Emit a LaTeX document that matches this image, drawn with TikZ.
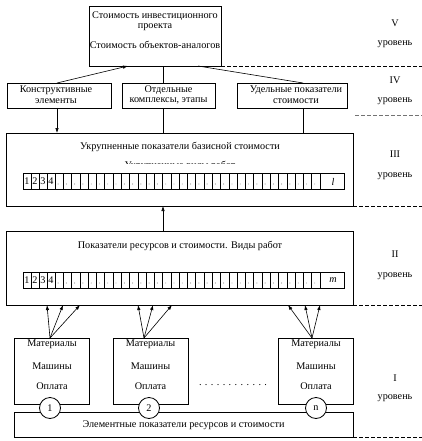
\documentclass[tikz,border=0pt]{standalone}
\usepackage{fontspec}
\setmainfont{Liberation Serif}
\usetikzlibrary{arrows.meta,calc}
\begin{document}
\begin{tikzpicture}[x=1pt,y=-1pt,
  box/.style={draw,line width=0.8pt,inner sep=0pt,outer sep=0pt},
  txt/.style={font=\fontsize{10.2}{12}\selectfont,inner sep=0pt},
  arr/.style={-{Latex[length=5pt,width=3.5pt]},line width=0.6pt},
  ln/.style={line width=0.6pt},
  lvdash/.style={dash pattern=on 4pt off 2pt,line width=0.7pt},
  celline/.style={line width=0.6pt},
  num/.style={circle,draw,fill=white,line width=0.8pt,minimum size=21pt,inner sep=0pt,font=\fontsize{10.2}{12}\selectfont},
]
\useasboundingbox (0,0) rectangle (422,441);

% ---------- level V ----------
\node[box,minimum width=132pt,minimum height=60pt] (top) at (155,36) {};
\node[txt] (t1) at (155,16) {Стоимость инвестиционного};
\node[txt] (t2) at (155,27) {проекта};
\node[txt] (t3) at (155,45) {Стоимость объектов-аналогов};

% ---------- level IV ----------
\node[box,minimum width=104pt,minimum height=25pt] (k1) at (59,95.5) {};
\node[box,minimum width=93pt,minimum height=25pt] (k2) at (168.5,95.5) {};
\node[box,minimum width=110pt,minimum height=25pt] (k3) at (292,95.5) {};
\node[txt] (k1a) at (56,90) {Конструктивные};
\node[txt] (k1b) at (56,101) {элементы};
\node[txt] (k2a) at (168.5,90) {Отдельные};
\node[txt] (k2b) at (168.5,101) {комплексы, этапы};
\node[txt] (k3a) at (296,90) {Удельные показатели};
\node[txt] (k3b) at (296,101) {стоимости};

% ---------- level III ----------
\node[box,minimum width=347pt,minimum height=73pt] (l3) at (179.5,169.5) {};
\node[txt] (l3t) at (180,147) {Укрупненные показатели базисной стоимости};
\begin{scope}
  \clip (0,0) rectangle (422,163.8);
  \node[txt,anchor=base] (l3h) at (180,168.6) {Укрупненные виды работ};
\end{scope}

% ---------- level II ----------
\node[box,minimum width=347pt,minimum height=74pt] (l2) at (179.5,268) {};
\node[txt] (l2t) at (180,246) {Показатели ресурсов и стоимости. Виды работ};

% ---------- strips ----------
\foreach \yy/\last/\nm in {173/l/s3, 272/m/s2}{
  \node[draw,line width=0.6pt,minimum width=321pt,minimum height=16.5pt,inner sep=0pt] (\nm) at (183.5,\yy+8.25) {};
  \foreach \i in {1,2,3,4}{
    \draw[celline] (23+\i*8,\yy) -- (23+\i*8,\yy+16.5);
    \node[txt] at (19+\i*8,\yy+8.5) {\i};
  }
  \foreach \k in {1,...,32}{
    \draw[celline] (55+\k*8.28,\yy) -- (55+\k*8.28,\yy+16.5);
    \fill[black!70] (55+\k*8.28-5.2,\yy+11) circle (0.45pt);
  }
  \node[txt] at (333,\yy+8.5) {\textit{\last}};
}

% ---------- level I ----------
\node[box,minimum width=75pt,minimum height=66pt] (m1) at (51.5,371) {};
\node[box,minimum width=75pt,minimum height=66pt] (m2) at (150.5,371) {};
\node[box,minimum width=75pt,minimum height=66pt] (m3) at (315.5,371) {};
\foreach \b/\xx in {m1/52,m2/150.5,m3/316}{
  \node[txt] (\b a) at (\xx,344) {Материалы};
  \node[txt] (\b b) at (\xx,366) {Машины};
  \node[txt] (\b c) at (\xx,386) {Оплата};
}
\node[txt] (dots) at (233,385) {. . . . . . . . . . . .};
\node[box,minimum width=339pt,minimum height=25pt] (base) at (183.5,424.5) {};
\node[txt] (baset) at (183.5,425) {Элементные показатели ресурсов и стоимости};
\node[num] (c1) at (50,408) {1};
\node[num] (c2) at (149,408) {2};
\node[num] (c3) at (316,408) {n};

% ---------- level labels ----------
\foreach \r/\ya/\yb in {V/23/44, IV/80/101, III/154/176, II/254/276, I/378/398}{
  \node[txt] at (395,\ya) {\r};
  \node[txt] at (395,\yb) {уровень};
}
\draw[lvdash] (top.south east) -- ++(201,0) coordinate (d5);
\draw[lvdash,black!55] ($(k3.south east)+(8,7)$) coordinate (d4a) -- (422,115) coordinate (d4);
\draw[lvdash] (l3.south east) -- ++(69,0) coordinate (d3);
\draw[lvdash] (l2.south east) -- ++(69,0) coordinate (d2);
\draw[lvdash] (base.south east) -- ++(69,0) coordinate (d1);

% ---------- connectors ----------
\draw[arr] ($(k1.north west)+(50,0)$) -- ($(top.south west)+(39,0)$);
\draw[ln] ($(k2.north west)+(41,0)$) -- ($(top.south west)+(74,0)$);
\draw[ln] ($(k3.north west)+(66,0)$) -- ($(top.south west)+(109,0)$);

\draw[arr] ($(k1.south west)+(50,0)$) -- ($(l3.north west)+(51,0)$);
\draw[ln] ($(k2.south west)+(41,0)$) -- ($(l3.north west)+(157,0)$);
\draw[ln] ($(k3.south west)+(66,0)$) -- ($(l3.north west)+(297,0)$);

\draw[arr] ($(l2.north west)+(157,0)$) -- ($(l3.south west)+(157,0)$);

\coordinate (p1) at ($(m1.north)+(-1.5,0)$);
\coordinate (p2) at ($(m2.north)+(-6.5,0)$);
\coordinate (p3) at ($(m3.north)+(-3.5,0)$);
\foreach \p/\a/\b/\c in {p1/41/57/74, p2/132/147/166, p3/282/299/314}{
  \draw[arr] (\p) -- ($(l2.south west)+(\a,0)$);
  \draw[arr] (\p) -- ($(l2.south west)+(\b,0)$);
  \draw[arr] (\p) -- ($(l2.south west)+(\c,0)$);
}
\end{tikzpicture}
\end{document}
